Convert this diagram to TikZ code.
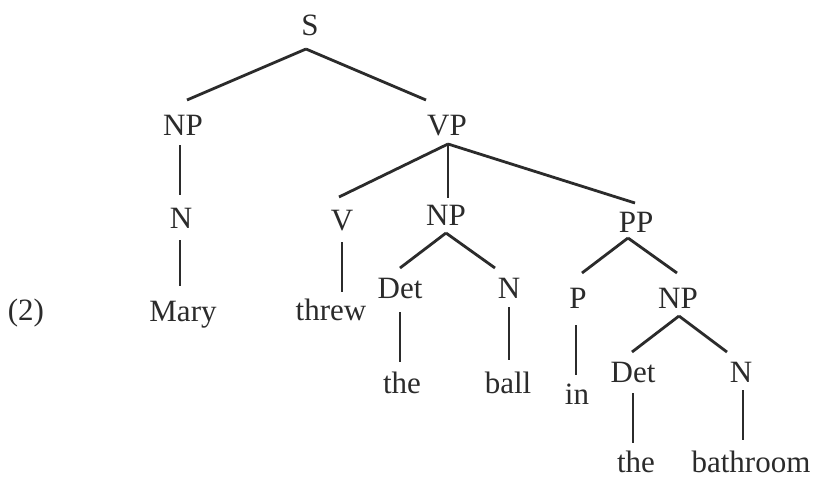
\documentclass[tikz,border=0pt]{standalone}
\usepackage{fontspec}
\setmainfont{Liberation Serif}
\definecolor{ink}{HTML}{2B2B2B}
\tikzset{
  lbl/.style={anchor=base, inner sep=0pt, text=ink, font=\fontsize{31}{36}\selectfont},
  br/.style={draw=ink, line width=2.8pt}
}
\begin{document}
\begin{tikzpicture}[x=1pt,y=-1pt]
\useasboundingbox[fill=white] (0,0) rectangle (814,480);
% nodes (x = centre, y = baseline)
\node[lbl] (S) at (310,35) {S};
\node[lbl] (NPa) at (183,135) {NP};
\node[lbl] (VP) at (447,135) {VP};
\node[lbl] (Na) at (181,228) {N};
\node[lbl] (mary) at (183,321) {Mary};
\node[lbl] (num) at (26,320) {(2)};
\node[lbl] (V) at (342,230) {V};
\node[lbl] (threw) at (331,320) {threw};
\node[lbl] (NPb) at (446,225) {NP};
\node[lbl] (PP) at (636,232) {PP};
\node[lbl] (Deta) at (400,298) {Det};
\node[lbl] (Nb) at (509,298) {N};
\node[lbl] (thea) at (402,393) {the};
\node[lbl] (ball) at (508,393) {ball};
\node[lbl] (P) at (578,308) {P};
\node[lbl] (NPc) at (678,308) {NP};
\node[lbl] (in) at (577,404) {in};
\node[lbl] (Detb) at (633,382) {Det};
\node[lbl] (Nc) at (741,382) {N};
\node[lbl] (theb) at (636,472) {the};
\node[lbl] (bath) at (751,472) {bathroom};
% branches
\draw[br] ([shift={(-4,14)}]S.base) -- ([shift={(4,-35)}]NPa.base);
\draw[br] ([shift={(-4,14)}]S.base) -- ([shift={(-21,-35)}]VP.base);
\draw[br] ([shift={(-3,10)}]NPa.base) -- ([shift={(-1,-33)}]Na.base);
\draw[br] ([shift={(-1,12)}]Na.base) -- ([shift={(-3,-35)}]mary.base);
\draw[br] ([shift={(1,9)}]VP.base) -- ([shift={(-3,-33)}]V.base);
\draw[br] ([shift={(1,9)}]VP.base) -- ([shift={(2,-27)}]NPb.base);
\draw[br] ([shift={(1,9)}]VP.base) -- ([shift={(-1,-29)}]PP.base);
\draw[br] ([shift={(0,12)}]V.base) -- ([shift={(11,-28)}]threw.base);
\draw[br] ([shift={(0,8)}]NPb.base) -- ([shift={(0,-30)}]Deta.base);
\draw[br] ([shift={(0,8)}]NPb.base) -- ([shift={(-14,-30)}]Nb.base);
\draw[br] ([shift={(0,14)}]Deta.base) -- ([shift={(-2,-31)}]thea.base);
\draw[br] ([shift={(0,9)}]Nb.base) -- ([shift={(1,-33)}]ball.base);
\draw[br] ([shift={(-8,6)}]PP.base) -- ([shift={(4,-35)}]P.base);
\draw[br] ([shift={(-8,6)}]PP.base) -- ([shift={(-1,-35)}]NPc.base);
\draw[br] ([shift={(-2,17)}]P.base) -- ([shift={(-1,-29)}]in.base);
\draw[br] ([shift={(1,8)}]NPc.base) -- ([shift={(-1,-30)}]Detb.base);
\draw[br] ([shift={(1,8)}]NPc.base) -- ([shift={(-14,-30)}]Nc.base);
\draw[br] ([shift={(0,11)}]Detb.base) -- ([shift={(-3,-29)}]theb.base);
\draw[br] ([shift={(2,8)}]Nc.base) -- ([shift={(-8,-32)}]bath.base);
\end{tikzpicture}
\end{document}
